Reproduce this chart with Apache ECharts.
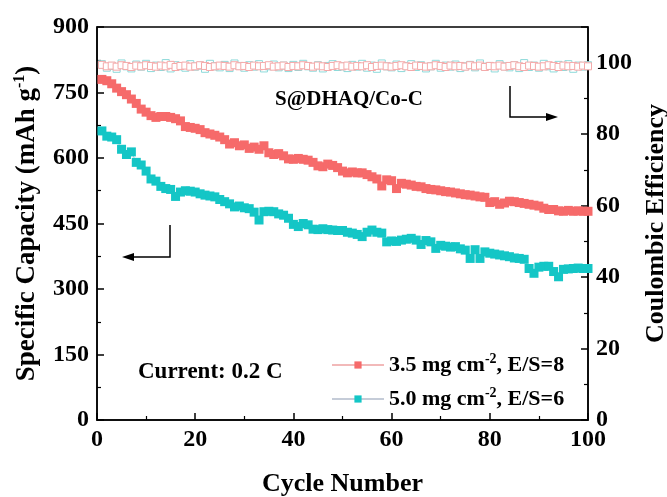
<!DOCTYPE html>
<html>
<head>
<meta charset="utf-8">
<script src="https://cdn.jsdelivr.net/npm/echarts@6/dist/echarts.min.js"></script>
<style>html,body{margin:0;padding:0;background:#fff}#c{width:667px;height:497px}</style>
</head>
<body>
<div id="c"></div>
<script>
const cycles = Array.from({length: 100}, (_, i) => i + 1);
const seriesNames = ['3.5 mg cm-2, E/S=8', '5.0 mg cm-2, E/S=6'];
const capRed = [780,777,770,760,752,745,735,725,712,705,
697,693,695,695,693,690,685,672,670,668,
665,658,655,652,648,642,632,635,628,630,
622,625,620,628,612,608,610,605,598,597,
599,597,595,590,582,580,586,583,578,570,
566,568,566,566,562,557,552,536,550,548,
530,542,540,538,535,534,530,528,527,525,
523,522,520,518,516,515,513,511,510,498,
500,494,497,501,500,498,496,494,492,490,
485,482,482,479,478,480,478,479,478,478];
const capCyan = [662,650,648,642,620,608,614,590,584,570,
552,547,535,530,528,512,522,525,524,522,
518,515,513,511,505,500,495,488,490,486,
484,476,458,477,478,477,472,469,462,448,
443,450,447,437,436,438,436,435,434,434,
430,428,425,420,430,435,430,428,408,410,
409,412,414,416,412,402,411,408,393,400,
398,396,397,392,389,370,390,370,385,382,
380,378,376,374,371,370,368,347,336,350,
352,352,340,328,345,346,347,348,347,347];
const ceRed = [99.4,99.0,99.2,98.9,99.3,99.1,98.8,99.2,99.0,99.3,
99.1,98.9,99.2,99.0,99.4,98.8,99.1,99.2,98.9,99.0,
99.3,99.1,98.8,99.0,99.2,99.1,98.9,99.3,99.0,99.1,
98.8,99.2,99.0,99.1,99.3,98.9,99.0,99.2,98.8,99.1,
99.0,99.3,99.1,98.9,99.2,99.0,98.8,99.1,99.3,99.0,
99.2,98.9,99.1,99.0,99.3,98.8,99.1,99.2,99.0,98.9,
99.1,99.3,99.0,98.8,99.2,99.1,98.9,99.0,99.3,99.1,
98.8,99.2,99.0,99.1,98.9,99.3,99.0,99.2,98.8,99.1,
99.0,99.2,98.9,99.1,99.3,99.0,98.8,99.2,99.1,98.9,
99.0,99.3,99.1,98.8,99.2,99.0,99.1,98.9,99.2,99.0];
const ceCyan = [99.6,98.6,99.1,98.3,99.8,99.0,98.4,99.5,98.9,99.7,
98.5,99.2,98.8,99.9,98.4,99.3,99.0,98.6,99.6,98.9,
99.2,98.3,99.7,99.0,98.7,99.4,98.5,99.8,99.1,98.6,
99.3,98.9,99.6,98.4,99.0,99.5,98.7,99.2,98.5,99.4,
98.8,99.7,99.0,98.6,99.3,98.4,99.1,99.6,98.8,99.0,
98.5,99.4,98.9,99.7,98.6,99.2,98.3,99.8,99.0,98.7,
99.5,98.5,99.1,99.6,98.8,99.3,98.4,99.0,99.7,98.6,
99.2,98.9,99.5,98.5,99.0,99.4,98.7,99.8,98.9,99.1,
98.4,99.6,99.0,98.7,99.3,98.5,99.9,98.8,99.2,98.6,
99.7,99.0,98.4,99.4,98.8,99.6,98.3,99.2,98.9,99.3];
const xTicks = {min: 0, max: 100, interval: 20};
const yLeftTicks = {min: 0, max: 900, interval: 150};
const yRightTicks = {min: 0, max: 110, interval: 20};

const FONT = "'Liberation Serif', 'Times New Roman', serif";
const RED = '#f66a6a', CYAN = '#14c6c6';
const pair = (ys) => cycles.map((c, i) => [c, ys[i]]);
const axisCommon = {
  axisLine: {show: true, lineStyle: {color: '#000', width: 1.5}},
  axisTick: {show: true, inside: true, length: 7, lineStyle: {color: '#000', width: 1.5}},
  minorTick: {show: true, splitNumber: 2, length: 4, lineStyle: {color: '#000', width: 1.2}},
  splitLine: {show: false},
  axisLabel: {color: '#000', fontFamily: FONT, fontWeight: 'bold', fontSize: 24},
  nameTextStyle: {color: '#000', fontFamily: FONT, fontWeight: 'bold', fontSize: 26}
};
const chart = echarts.init(document.getElementById('c'), null, {renderer: 'canvas'});
chart.setOption({
  animation: false,
  backgroundColor: '#fff',
  grid: {left: 97, right: 79, top: 27, bottom: 77, show: true, borderColor: '#000', borderWidth: 1.5,
         containLabel: false, outerBoundsMode: 'none'},
  xAxis: Object.assign({}, axisCommon, {
    type: 'value', min: xTicks.min, max: xTicks.max, interval: xTicks.interval,
    name: 'Cycle Number', nameLocation: 'middle', nameGap: 51,
    axisLabel: Object.assign({}, axisCommon.axisLabel, {margin: 8})
  }),
  yAxis: [
    Object.assign({}, axisCommon, {
      type: 'value', min: yLeftTicks.min, max: yLeftTicks.max, interval: yLeftTicks.interval,
      name: 'Specific Capacity (mAh g{sup|-1})', nameLocation: 'middle', nameGap: 55,
      nameTextStyle: Object.assign({}, axisCommon.nameTextStyle, {fontSize: 27, rich: {sup: {fontFamily: FONT, fontWeight: 'bold', fontSize: 16, color: '#000', padding: [0, 0, 14, 0]}}}),
      axisLabel: Object.assign({}, axisCommon.axisLabel, {margin: 8})
    }),
    Object.assign({}, axisCommon, {
      type: 'value', position: 'right', min: yRightTicks.min, max: yRightTicks.max, interval: yRightTicks.interval,
      name: 'Coulombic Efficiency', nameLocation: 'middle', nameGap: 55, nameRotate: 90, nameMoveOverlap: false,
      axisLabel: Object.assign({}, axisCommon.axisLabel, {margin: 8, showMaxLabel: false})
    })
  ],
  legend: {
    data: seriesNames, orient: 'vertical', left: 326, top: 347, itemWidth: 52, itemHeight: 9, itemGap: 10,
    formatter: (n) => n.replace('cm-2', 'cm{sup|-2}'),
    textStyle: {color: '#000', fontFamily: FONT, fontWeight: 'bold', fontSize: 22,
      rich: {sup: {fontFamily: FONT, fontWeight: 'bold', fontSize: 14, color: '#000', padding: [0, 0, 12, 0]}}}
  },
  series: [
    {name: 'ce1', type: 'line', yAxisIndex: 1, data: pair(ceRed), symbol: 'rect', symbolSize: 7,
     itemStyle: {color: '#fff', borderColor: '#f4a9a9', borderWidth: 1}, lineStyle: {color: '#f7caca', width: 0.8}, z: 2},
    {name: 'ce2', type: 'line', yAxisIndex: 1, data: pair(ceCyan), symbol: 'rect', symbolSize: 7,
     itemStyle: {color: '#fff', borderColor: '#8edada', borderWidth: 1}, lineStyle: {color: '#bfe9e9', width: 0.8}, z: 1},
    {name: seriesNames[0], type: 'line', yAxisIndex: 0, data: pair(capRed), symbol: 'rect', symbolSize: 9,
     itemStyle: {color: RED}, lineStyle: {color: '#f2b9b9', width: 1}, z: 3},
    {name: seriesNames[1], type: 'line', yAxisIndex: 0, data: pair(capCyan), symbol: 'rect', symbolSize: 9,
     itemStyle: {color: CYAN}, lineStyle: {color: '#c5ccd8', width: 1}, z: 3}
  ],
  graphic: [
    {type: 'text', left: 275, top: 89, style: {text: 'S@DHAQ/Co-C', fill: '#000', font: "bold 21px 'Liberation Serif', serif"}},
    {type: 'text', left: 138, top: 361, style: {text: 'Current: 0.2 C', fill: '#000', font: "bold 23px 'Liberation Serif', serif"}},
    {type: 'polyline', shape: {points: [[170, 225], [170, 257], [128, 257]]}, style: {stroke: '#000', lineWidth: 1.5, fill: null}},
    {type: 'polygon', shape: {points: [[122, 257], [134, 253], [134, 261]]}, style: {fill: '#000'}},
    {type: 'polyline', shape: {points: [[510, 86], [510, 117], [552, 117]]}, style: {stroke: '#000', lineWidth: 1.5, fill: null}},
    {type: 'polygon', shape: {points: [[558, 117], [546, 113], [546, 121]]}, style: {fill: '#000'}}
  ]
});
</script>
</body>
</html>
